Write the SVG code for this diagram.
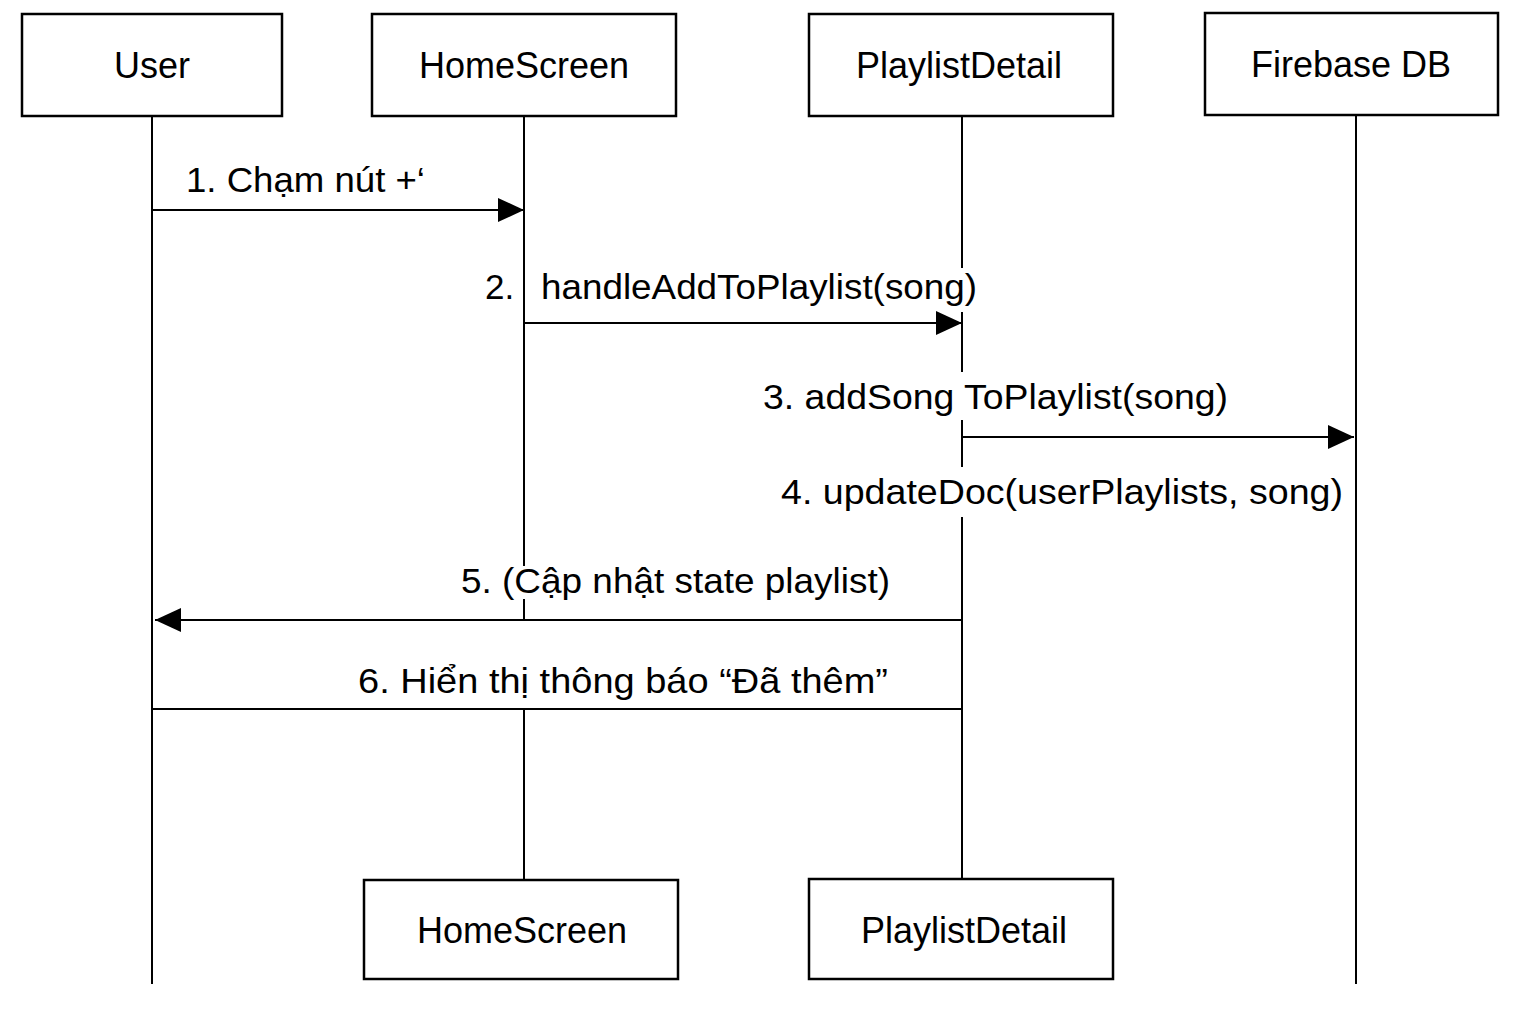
<svg xmlns="http://www.w3.org/2000/svg" width="1536" height="1024" viewBox="0 0 1536 1024">
<style>
.box{fill:#fff;stroke:#000;stroke-width:2.5}
.life{stroke:#000;stroke-width:2;fill:none}
.msg{stroke:#000;stroke-width:2;fill:none}
.lbl{font-family:"Liberation Sans",Arial,sans-serif;font-size:36px;fill:#000;text-anchor:middle}
.mt{font-family:"Liberation Sans",Arial,sans-serif;font-size:35px;fill:#000}
</style>
<defs>
<marker id="ah" markerWidth="26" markerHeight="24" refX="26" refY="12" orient="auto" markerUnits="userSpaceOnUse">
<path d="M0,0 L26,12 L0,24 Z" fill="#000"/>
</marker>
</defs>
<rect width="1536" height="1024" fill="#fff"/>
<g id="lifelines">
<line class="life" x1="152" y1="116" x2="152" y2="984"/>
<line class="life" x1="524" y1="116" x2="524" y2="566"/>
<line class="life" x1="524" y1="599" x2="524" y2="620"/>
<line class="life" x1="524" y1="709" x2="524" y2="880"/>
<line class="life" x1="962" y1="116" x2="962" y2="268"/>
<line class="life" x1="962" y1="312" x2="962" y2="372"/>
<line class="life" x1="962" y1="420" x2="962" y2="467"/>
<line class="life" x1="962" y1="517" x2="962" y2="880"/>
<line class="life" x1="1356" y1="115" x2="1356" y2="984"/>
</g>
<g id="user"><rect class="box" x="22" y="14" width="260" height="102"/><text class="lbl" x="152" y="78">User</text></g>
<g id="homescreen"><rect class="box" x="372" y="14" width="304" height="102"/><text class="lbl" x="524" y="78">HomeScreen</text></g>
<g id="playlistdetail"><rect class="box" x="809" y="14" width="304" height="102"/><text class="lbl" x="959" y="78">PlaylistDetail</text></g>
<g id="firebase"><rect class="box" x="1205" y="13" width="293" height="102"/><text class="lbl" x="1351" y="77">Firebase DB</text></g>
<g id="homescreen-bottom"><rect class="box" x="364" y="880" width="314" height="99"/><text class="lbl" x="522" y="943">HomeScreen</text></g>
<g id="playlistdetail-bottom"><rect class="box" x="809" y="879" width="304" height="100"/><text class="lbl" x="964" y="943">PlaylistDetail</text></g>
<g id="connectors">
<line class="msg" x1="152" y1="210" x2="524" y2="210" marker-end="url(#ah)"/>
<line class="msg" x1="524" y1="323" x2="962" y2="323" marker-end="url(#ah)"/>
<line class="msg" x1="962" y1="437" x2="1354" y2="437" marker-end="url(#ah)"/>
<line class="msg" x1="962" y1="620" x2="155" y2="620" marker-end="url(#ah)"/>
<line class="msg" x1="152" y1="709" x2="962" y2="709"/>
<text class="mt" x="186" y="192" textLength="239" lengthAdjust="spacingAndGlyphs">1. Chạm nút +‘</text>
<text class="mt" x="485" y="299">2.</text>
<text class="mt" x="541" y="299" textLength="436" lengthAdjust="spacingAndGlyphs">handleAddToPlaylist(song)</text>
<text class="mt" x="763" y="409" textLength="465" lengthAdjust="spacingAndGlyphs">3. addSong ToPlaylist(song)</text>
<text class="mt" x="781" y="504" textLength="562" lengthAdjust="spacingAndGlyphs">4. updateDoc(userPlaylists, song)</text>
<text class="mt" x="461" y="593" textLength="429" lengthAdjust="spacingAndGlyphs">5. (Cập nhật state playlist)</text>
<text class="mt" x="358" y="693" textLength="530" lengthAdjust="spacingAndGlyphs">6. Hiển thị thông báo “Đã thêm”</text>
</g>
</svg>
